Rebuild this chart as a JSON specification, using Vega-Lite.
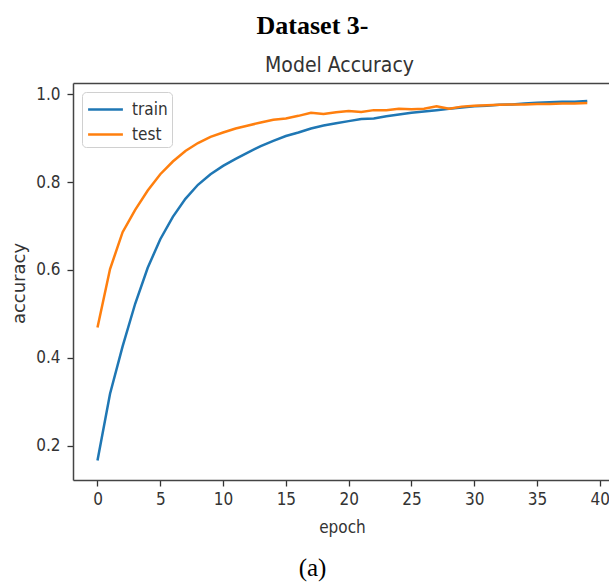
{
  "$schema": "https://vega.github.io/schema/vega-lite/v6.json",
  "width": 536,
  "height": 397,
  "autosize": "none",
  "padding": {"left": 73, "top": 83, "right": 0, "bottom": 105},
  "background": "white",
  "view": {"stroke": null},
  "config": {
    "font": "DejaVu Sans",
    "axis": {"grid": false}
  },
  "data": {
    "values": [
      {"epoch": 0, "series": "train", "accuracy": 0.166},
      {"epoch": 1, "series": "train", "accuracy": 0.318},
      {"epoch": 2, "series": "train", "accuracy": 0.426},
      {"epoch": 3, "series": "train", "accuracy": 0.523},
      {"epoch": 4, "series": "train", "accuracy": 0.605},
      {"epoch": 5, "series": "train", "accuracy": 0.670},
      {"epoch": 6, "series": "train", "accuracy": 0.721},
      {"epoch": 7, "series": "train", "accuracy": 0.762},
      {"epoch": 8, "series": "train", "accuracy": 0.794},
      {"epoch": 9, "series": "train", "accuracy": 0.818},
      {"epoch": 10, "series": "train", "accuracy": 0.837},
      {"epoch": 11, "series": "train", "accuracy": 0.853},
      {"epoch": 12, "series": "train", "accuracy": 0.868},
      {"epoch": 13, "series": "train", "accuracy": 0.882},
      {"epoch": 14, "series": "train", "accuracy": 0.894},
      {"epoch": 15, "series": "train", "accuracy": 0.905},
      {"epoch": 16, "series": "train", "accuracy": 0.913},
      {"epoch": 17, "series": "train", "accuracy": 0.922},
      {"epoch": 18, "series": "train", "accuracy": 0.929},
      {"epoch": 19, "series": "train", "accuracy": 0.934},
      {"epoch": 20, "series": "train", "accuracy": 0.939},
      {"epoch": 21, "series": "train", "accuracy": 0.944},
      {"epoch": 22, "series": "train", "accuracy": 0.945},
      {"epoch": 23, "series": "train", "accuracy": 0.950},
      {"epoch": 24, "series": "train", "accuracy": 0.954},
      {"epoch": 25, "series": "train", "accuracy": 0.958},
      {"epoch": 26, "series": "train", "accuracy": 0.961},
      {"epoch": 27, "series": "train", "accuracy": 0.964},
      {"epoch": 28, "series": "train", "accuracy": 0.967},
      {"epoch": 29, "series": "train", "accuracy": 0.970},
      {"epoch": 30, "series": "train", "accuracy": 0.973},
      {"epoch": 31, "series": "train", "accuracy": 0.974},
      {"epoch": 32, "series": "train", "accuracy": 0.976},
      {"epoch": 33, "series": "train", "accuracy": 0.977},
      {"epoch": 34, "series": "train", "accuracy": 0.979},
      {"epoch": 35, "series": "train", "accuracy": 0.981},
      {"epoch": 36, "series": "train", "accuracy": 0.982},
      {"epoch": 37, "series": "train", "accuracy": 0.983},
      {"epoch": 38, "series": "train", "accuracy": 0.983},
      {"epoch": 39, "series": "train", "accuracy": 0.985},
      {"epoch": 0, "series": "test", "accuracy": 0.469},
      {"epoch": 1, "series": "test", "accuracy": 0.602},
      {"epoch": 2, "series": "test", "accuracy": 0.686},
      {"epoch": 3, "series": "test", "accuracy": 0.737},
      {"epoch": 4, "series": "test", "accuracy": 0.781},
      {"epoch": 5, "series": "test", "accuracy": 0.818},
      {"epoch": 6, "series": "test", "accuracy": 0.847},
      {"epoch": 7, "series": "test", "accuracy": 0.871},
      {"epoch": 8, "series": "test", "accuracy": 0.889},
      {"epoch": 9, "series": "test", "accuracy": 0.903},
      {"epoch": 10, "series": "test", "accuracy": 0.913},
      {"epoch": 11, "series": "test", "accuracy": 0.922},
      {"epoch": 12, "series": "test", "accuracy": 0.929},
      {"epoch": 13, "series": "test", "accuracy": 0.936},
      {"epoch": 14, "series": "test", "accuracy": 0.942},
      {"epoch": 15, "series": "test", "accuracy": 0.945},
      {"epoch": 16, "series": "test", "accuracy": 0.951},
      {"epoch": 17, "series": "test", "accuracy": 0.958},
      {"epoch": 18, "series": "test", "accuracy": 0.955},
      {"epoch": 19, "series": "test", "accuracy": 0.959},
      {"epoch": 20, "series": "test", "accuracy": 0.962},
      {"epoch": 21, "series": "test", "accuracy": 0.960},
      {"epoch": 22, "series": "test", "accuracy": 0.964},
      {"epoch": 23, "series": "test", "accuracy": 0.964},
      {"epoch": 24, "series": "test", "accuracy": 0.967},
      {"epoch": 25, "series": "test", "accuracy": 0.966},
      {"epoch": 26, "series": "test", "accuracy": 0.967},
      {"epoch": 27, "series": "test", "accuracy": 0.973},
      {"epoch": 28, "series": "test", "accuracy": 0.967},
      {"epoch": 29, "series": "test", "accuracy": 0.972},
      {"epoch": 30, "series": "test", "accuracy": 0.974},
      {"epoch": 31, "series": "test", "accuracy": 0.975},
      {"epoch": 32, "series": "test", "accuracy": 0.976},
      {"epoch": 33, "series": "test", "accuracy": 0.977},
      {"epoch": 34, "series": "test", "accuracy": 0.977},
      {"epoch": 35, "series": "test", "accuracy": 0.978},
      {"epoch": 36, "series": "test", "accuracy": 0.978},
      {"epoch": 37, "series": "test", "accuracy": 0.979},
      {"epoch": 38, "series": "test", "accuracy": 0.979},
      {"epoch": 39, "series": "test", "accuracy": 0.980}
    ]
  },
  "resolve": {"axis": {"x": "independent"}},
  "layer": [
    {
      "mark": {"type": "line", "strokeWidth": 2.5},
      "encoding": {
        "x": {
          "field": "epoch", "type": "quantitative",
          "scale": {"domain": [-1.95, 40.73], "nice": false, "zero": false},
          "axis": {
            "orient": "bottom",
            "values": [0, 5, 10, 15, 20, 25, 30, 35, 40],
            "format": "d",
            "labelFont": "DejaVu Sans Condensed, DejaVu Sans",
            "labelFontSize": 17,
            "labelColor": "#333",
            "labelPadding": 5,
            "labelFlush": false,
            "labelOverlap": false,
            "tickSize": 6,
            "tickWidth": 1.3,
            "tickColor": "#333",
            "domainColor": "#444",
            "domainWidth": 1.5,
            "title": "epoch",
            "titleFont": "DejaVu Sans Condensed, DejaVu Sans",
            "titleFontSize": 17,
            "titleFontWeight": "normal",
            "titleColor": "#333",
            "titleBaseline": "alphabetic",
            "titleAlign": "center",
            "titleX": 269,
            "titleY": 52
          }
        },
        "y": {
          "field": "accuracy", "type": "quantitative",
          "scale": {"domain": [0.1216, 1.0258], "nice": false, "zero": false},
          "axis": {
            "values": [0.2, 0.4, 0.6, 0.8, 1.0],
            "format": ".1f",
            "labelFont": "DejaVu Sans Condensed, DejaVu Sans",
            "labelFontSize": 17,
            "labelColor": "#333",
            "labelPadding": 7,
            "labelFlush": false,
            "labelOverlap": false,
            "tickSize": 6,
            "tickWidth": 1.3,
            "tickColor": "#333",
            "domainColor": "#444",
            "domainWidth": 1.5,
            "title": "accuracy",
            "titleFont": "DejaVu Sans",
            "titleFontSize": 18,
            "titleFontWeight": "normal",
            "titleColor": "#333",
            "titleBaseline": "alphabetic",
            "titleAlign": "center",
            "titleAngle": 270,
            "titleX": -49,
            "titleY": 200
          }
        },
        "color": {
          "field": "series", "type": "nominal",
          "scale": {"domain": ["train", "test"], "range": ["#1f77b4", "#ff7f0e"]},
          "legend": {
            "title": null,
            "orient": "top-left",
            "offset": 9,
            "padding": 4,
            "fillColor": "white",
            "strokeColor": "#d0d0d0",
            "cornerRadius": 4,
            "symbolType": "M-1.45,0H1.45",
            "symbolSize": 576,
            "symbolStrokeWidth": 2.5,
            "symbolOffset": 6,
            "labelFont": "DejaVu Sans Condensed, DejaVu Sans",
            "labelFontSize": 17,
            "labelColor": "#333",
            "labelOffset": 13,
            "rowPadding": 3,
            "labelExpr": "datum.label + '\u00a0'"
          }
        }
      }
    },
    {
      "mark": {"type": "point", "opacity": 0},
      "encoding": {
        "x": {
          "field": "epoch", "type": "quantitative",
          "scale": {"domain": [-1.95, 40.73], "nice": false, "zero": false},
          "axis": {
            "orient": "top",
            "labels": false,
            "ticks": false,
            "domain": true,
            "domainColor": "#444",
            "domainWidth": 1.5,
            "title": "Model Accuracy",
            "titleFont": "DejaVu Sans Condensed, DejaVu Sans",
            "titleFontSize": 21,
            "titleFontWeight": "normal",
            "titleColor": "#333",
            "titleBaseline": "alphabetic",
            "titleAlign": "center",
            "titleX": 266,
            "titleY": -12
          }
        }
      }
    },
    {
      "mark": {"type": "point", "opacity": 0},
      "encoding": {
        "x": {
          "field": "epoch", "type": "quantitative",
          "scale": {"domain": [-1.95, 40.73], "nice": false, "zero": false},
          "axis": {
            "orient": "top",
            "labels": false,
            "ticks": false,
            "domain": false,
            "title": "Dataset 3-",
            "titleFont": "Liberation Serif",
            "titleFontSize": 26,
            "titleFontWeight": "bold",
            "titleColor": "black",
            "titleBaseline": "alphabetic",
            "titleAlign": "center",
            "titleX": 239,
            "titleY": -50
          }
        }
      }
    },
    {
      "mark": {"type": "point", "opacity": 0},
      "encoding": {
        "x": {
          "field": "epoch", "type": "quantitative",
          "scale": {"domain": [-1.95, 40.73], "nice": false, "zero": false},
          "axis": {
            "orient": "bottom",
            "labels": false,
            "ticks": false,
            "domain": false,
            "title": "(a)",
            "titleFont": "Liberation Serif",
            "titleFontSize": 25,
            "titleFontWeight": "normal",
            "titleColor": "black",
            "titleBaseline": "alphabetic",
            "titleAlign": "center",
            "titleX": 239,
            "titleY": 95
          }
        }
      }
    }
  ]
}
